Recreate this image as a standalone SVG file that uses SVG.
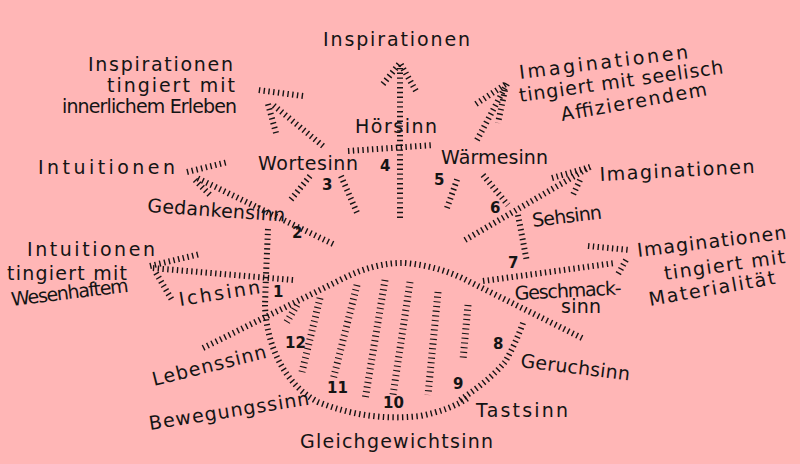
<svg xmlns="http://www.w3.org/2000/svg" width="800" height="464" viewBox="0 0 800 464">
<style>
.h{fill:none;stroke:#141414;stroke-width:6;stroke-dasharray:1.4 3.4;stroke-linecap:butt}
.b{fill:none;stroke:#141414;stroke-width:7;stroke-dasharray:1.1 3.6}
text{font-family:"DejaVu Sans","Liberation Sans",sans-serif;fill:#141414;font-size:19px}
.n{font-size:15px;font-weight:bold}
</style>
<rect width="800" height="464" fill="#ffb6b6"/>
<g id="connectors">
<path class="h" d="M400,218 L400,68"/>
<path class="h" d="M383,84 L400,63 L416,91"/>
<path class="h" d="M348,151 L434,145"/>
<path class="h" d="M323,146 L272,104"/>
<path class="h" d="M303,96 L258,90"/>
<path class="h" d="M268,104 L276,133"/>
<path class="h" d="M333,244 L197,178"/>
<path class="h" d="M187,172 L228,162"/>
<path class="h" d="M195,180 L210,195"/>
<path class="h" d="M310,176 L289,202"/>
<path class="h" d="M341,176 L358,215"/>
<path class="h" d="M268,229 L266,275 L265,305"/>
<path class="h" d="M293,280 L152,268"/>
<path class="h" d="M150,266 L200,254"/>
<path class="h" d="M156,273 L172,300"/>
<path class="h" d="M203,348 L340,280 Q375,262 405,263 Q440,266 470,282 L582,338"/>
<path class="h" d="M265,305 C266,345 285,385 318,402 Q368,422 420,416 Q450,410 468,398"/>
<path class="h" d="M460,400 Q490,380 505,362 Q515,345 523,323"/>
<path class="b" d="M297,305 L285,325"/>
<path class="b" d="M320,298 L302,372"/>
<path class="b" d="M357,285 L333,380"/>
<path class="b" d="M385,280 L365,400"/>
<path class="b" d="M410,282 L393,395"/>
<path class="b" d="M438,292 L428,395"/>
<path class="b" d="M468,305 L463,360"/>
<path class="h" d="M483,281 L615,263"/>
<path class="h" d="M588,246 L630,250"/>
<path class="h" d="M626,260 L617,276"/>
<path class="h" d="M518,215 L527,262"/>
<path class="h" d="M483,175 L508,205"/>
<path class="h" d="M465,240 L590,167"/>
<path class="h" d="M552,178 L590,167"/>
<path class="h" d="M580,180 L572,197"/>
<path class="h" d="M447,208 L458,177"/>
<path class="h" d="M477,140 L508,82"/>
<path class="h" d="M476,104 L506,84"/>
<path class="h" d="M505,90 L498,123"/>
</g>
<g id="labels">
<text x="323" y="46" font-size="21" textLength="147" lengthAdjust="spacing">Inspirationen</text>
<g id="insp-left">
<text x="88" y="71" textLength="145" lengthAdjust="spacing">Inspirationen</text>
<text x="107" y="92" textLength="128" lengthAdjust="spacing">tingiert mit</text>
<text x="62" y="113" textLength="175" lengthAdjust="spacing">innerlichem Erleben</text>
</g>
<text x="38" y="174" font-size="20" textLength="137" lengthAdjust="spacing">Intuitionen</text>
<text x="147" y="212" transform="rotate(4 147 212)" textLength="138" lengthAdjust="spacing">Gedankensinn</text>
<text x="258" y="170" textLength="100" lengthAdjust="spacing">Wortesinn</text>
<text x="355" y="133" textLength="82" lengthAdjust="spacing">Hörsinn</text>
<text x="441" y="164" textLength="107" lengthAdjust="spacing">Wärmesinn</text>
<g id="imag-top">
<text x="520" y="79" transform="rotate(-7 520 79)" textLength="170" lengthAdjust="spacing">Imaginationen</text>
<text x="520" y="102" transform="rotate(-8 520 102)" textLength="206" lengthAdjust="spacing">tingiert mit seelisch</text>
<text x="562" y="121" transform="rotate(-10 562 121)" textLength="148" lengthAdjust="spacing">Affizierendem</text>
</g>
<text x="600" y="181" transform="rotate(-3 600 181)" textLength="155" lengthAdjust="spacing">Imaginationen</text>
<text x="533" y="227" transform="rotate(-7 533 227)" textLength="70" lengthAdjust="spacing">Sehsinn</text>
<g id="imag-mat">
<text x="638" y="257" transform="rotate(-7 638 257)" textLength="150" lengthAdjust="spacing">Imaginationen</text>
<text x="665" y="280" transform="rotate(-8 665 280)" textLength="122" lengthAdjust="spacing">tingiert mit</text>
<text x="650" y="306" transform="rotate(-10 650 306)" textLength="128" lengthAdjust="spacing">Materialität</text>
</g>
<text x="515" y="300" transform="rotate(-3 515 300)" textLength="107" lengthAdjust="spacing">Geschmack-</text>
<text x="561" y="313" textLength="40" lengthAdjust="spacing">sinn</text>
<text x="520" y="367" transform="rotate(7 520 367)" textLength="110" lengthAdjust="spacing">Geruchsinn</text>
<text x="476" y="417" textLength="92" lengthAdjust="spacing">Tastsinn</text>
<text x="300" y="448" textLength="193" lengthAdjust="spacing">Gleichgewichtsinn</text>
<text x="150" y="430" transform="rotate(-9 150 430)" textLength="162" lengthAdjust="spacing">Bewegungssinn</text>
<text x="154" y="386" transform="rotate(-14 154 386)" textLength="117" lengthAdjust="spacing">Lebenssinn</text>
<text x="180" y="306" transform="rotate(-9 180 306)" textLength="82" lengthAdjust="spacing">Ichsinn</text>
<g id="intu-wesen">
<text x="27" y="256" textLength="128" lengthAdjust="spacing">Intuitionen</text>
<text x="7" y="280" textLength="120" lengthAdjust="spacing">tingiert mit</text>
<text x="12" y="306" transform="rotate(-7 12 306)" textLength="118" lengthAdjust="spacing">Wesenhaftem</text>
</g>
</g>
<g id="numbers">
<text class="n" x="273" y="297">1</text>
<text class="n" x="292" y="238">2</text>
<text class="n" x="322" y="190">3</text>
<text class="n" x="380" y="171">4</text>
<text class="n" x="434" y="185">5</text>
<text class="n" x="490" y="213">6</text>
<text class="n" x="508" y="268">7</text>
<text class="n" x="493" y="349">8</text>
<text class="n" x="453" y="389">9</text>
<text class="n" x="383" y="408">10</text>
<text class="n" x="327" y="393">11</text>
<text class="n" x="285" y="348">12</text>
</g>
</svg>
